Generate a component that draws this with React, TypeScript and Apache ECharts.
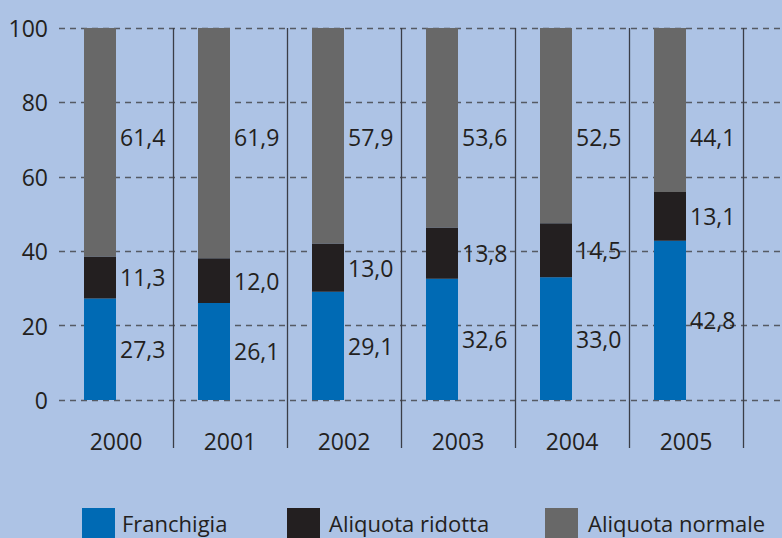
import React, { useEffect, useRef } from "react";
import * as echarts from "echarts";

const years = ["2000", "2001", "2002", "2003", "2004", "2005"];
const franchigia = [27.3, 26.1, 29.1, 32.6, 33.0, 42.8];
const aliquotaRidotta = [11.3, 12.0, 13.0, 13.8, 14.5, 13.1];
const aliquotaNormale = [61.4, 61.9, 57.9, 53.6, 52.5, 44.1];
const seriesNames = ["Franchigia", "Aliquota ridotta", "Aliquota normale"];

const FONT = "Open Sans";
const TEXT = "#231f20";

export default function App() {
  const ref = useRef<HTMLDivElement>(null);
  useEffect(() => {
    if (!ref.current) return;
    const chart = echarts.init(ref.current, undefined, { renderer: "svg" });
    const fmt = (p: any) => Number(p.value).toFixed(1).replace(".", ",");
    const skipFirst = (i: number) => i > 0;
    const labelBase = {
      show: true,
      formatter: fmt,
      fontSize: 23,
      fontFamily: FONT,
      color: TEXT,
    };
    const legendBase = {
      top: 508,
      padding: 0,
      icon: "rect",
      itemWidth: 33,
      itemHeight: 30,
      selectedMode: false,
    };
    const legendText = (pad: number) => ({
      fontSize: 22,
      fontFamily: FONT,
      color: TEXT,
      padding: [0, 0, 0, pad],
    });
    chart.setOption({
      animation: false,
      backgroundColor: "#adc3e5",
      textStyle: { fontFamily: FONT },
      grid: [
        { left: 59, right: 0, top: 28, bottom: 138 },
        { left: 59, width: 684, top: 28, bottom: 138 },
      ],
      xAxis: [
        { gridIndex: 0, type: "value", min: 0, max: 1, show: false },
        {
          gridIndex: 1,
          type: "category",
          data: years,
          axisLine: { show: false },
          axisTick: {
            show: true,
            length: 48,
            interval: skipFirst,
            lineStyle: { color: "#3a3d47", width: 1.3 },
          },
          splitLine: {
            show: true,
            interval: skipFirst,
            lineStyle: { color: "#3a3d47", width: 1.3 },
          },
          axisLabel: {
            interval: 0,
            margin: 29,
            fontSize: 23,
            fontFamily: FONT,
            color: TEXT,
          },
        },
      ],
      yAxis: [
        {
          gridIndex: 0,
          type: "value",
          min: 0,
          max: 100,
          interval: 20,
          axisLine: { show: false },
          axisTick: { show: false },
          axisLabel: { margin: 11, fontSize: 23, fontFamily: FONT, color: TEXT },
          splitLine: {
            show: true,
            lineStyle: { color: "#555a64", width: 1.3, type: [6, 5] },
          },
        },
        { gridIndex: 1, type: "value", min: 0, max: 100, show: false },
      ],
      legend: [
        { ...legendBase, data: [seriesNames[0]], left: 82, textStyle: legendText(2) },
        { ...legendBase, data: [seriesNames[1]], left: 287, textStyle: legendText(4) },
        { ...legendBase, data: [seriesNames[2]], left: 545, textStyle: legendText(5) },
      ],
      series: [
        {
          name: seriesNames[0],
          type: "bar",
          stack: "a",
          xAxisIndex: 1,
          yAxisIndex: 1,
          barWidth: 32,
          barGap: "0%",
          data: franchigia,
          itemStyle: { color: "#006ab4" },
          label: { ...labelBase, position: "right", distance: 4 },
        },
        {
          name: seriesNames[1],
          type: "bar",
          stack: "a",
          xAxisIndex: 1,
          yAxisIndex: 1,
          barWidth: 32,
          barGap: "0%",
          data: aliquotaRidotta,
          itemStyle: { color: "#231f20" },
          label: { ...labelBase, position: "right", distance: 4 },
        },
        {
          name: seriesNames[2],
          type: "bar",
          stack: "a",
          xAxisIndex: 1,
          yAxisIndex: 1,
          barWidth: 32,
          barGap: "0%",
          data: aliquotaNormale,
          itemStyle: { color: "#686868" },
          label: { ...labelBase, position: [36, 109], align: "left", verticalAlign: "middle" },
        },
        {
          name: "spacer",
          type: "bar",
          stack: "b",
          xAxisIndex: 1,
          yAxisIndex: 1,
          barWidth: 32,
          barGap: "0%",
          data: years.map(() => "-"),
          silent: true,
        },
      ],
    });
    return () => chart.dispose();
  }, []);
  return (
    <div
      ref={ref}
      style={{ position: "fixed", left: 0, top: 0, width: 782, height: 538 }}
    />
  );
}
